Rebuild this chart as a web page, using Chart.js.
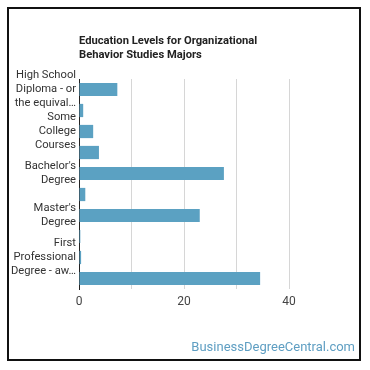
<!DOCTYPE html>
<html>
<head>
<meta charset="utf-8">
<script src="https://cdn.jsdelivr.net/npm/chart.js@4"></script>
<style>
  html, body { margin: 0; padding: 0; background: #fff; }
  #wrap { position: relative; width: 370px; height: 370px; }
  #frame { position: absolute; left: 7px; top: 7px; width: 350px; height: 350px; border: 2px solid #111; box-sizing: content-box; pointer-events: none; }
  canvas { position: absolute; left: 0; top: 0; }
</style>
</head>
<body>
<div id="wrap">
  <canvas id="c" width="370" height="370"></canvas>
  <div id="frame"></div>
</div>
<script>
const titleLines = ["Education Levels for Organizational", "Behavior Studies Majors"];
const categories = [
  "High School Diploma - or the equivalent (for example, GED)",
  "Post-Secondary Certificate",
  "Some College Courses",
  "Associate's Degree",
  "Bachelor's Degree",
  "Post-Baccalaureate Certificate",
  "Master's Degree",
  "Post-Master's Certificate",
  "First Professional Degree - awarded for completion of a program",
  "Doctoral Degree"
];
const tickLabels = [
  ["High School", "Diploma - or", "the equival\u2026"],
  ["Post-Secondary", "Certificate"],
  ["Some", "College", "Courses"],
  ["Associate's", "Degree"],
  ["Bachelor's", "Degree"],
  ["Post-", "Baccalaureate", "Certificate"],
  ["Master's", "Degree"],
  ["Post-Master's", "Certificate"],
  ["First", "Professional", "Degree - aw\u2026"],
  ["Doctoral", "Degree"]
];
const percentValues = [7.3, 0.8, 2.7, 3.8, 27.6, 1.2, 23.0, 0.25, 0.4, 34.5];
const xTickValues = [0, 20, 40];
const watermark = "BusinessDegreeCentral.com";

const textPlugin = {
  id: 'texts',
  afterDraw(chart) {
    const ctx = chart.ctx;
    const a = chart.chartArea;
    ctx.save();
    ctx.fillStyle = '#222';
    ctx.font = 'bold 11.2px Roboto';
    ctx.textAlign = 'left';
    ctx.textBaseline = 'middle';
    titleLines.forEach((t, i) => ctx.fillText(t, a.left, 41 + i * 14));
    ctx.fillStyle = '#5e9ec2';
    ctx.font = '13px Roboto';
    ctx.textAlign = 'right';
    ctx.fillText(watermark, 355, 348);
    ctx.restore();
  }
};

new Chart(document.getElementById('c'), {
  type: 'bar',
  data: {
    labels: tickLabels,
    datasets: [{
      data: percentValues,
      backgroundColor: '#5ba1c2',
      borderWidth: 0,
      categoryPercentage: 0.7,
      barPercentage: 0.9
    }]
  },
  options: {
    indexAxis: 'y',
    responsive: false,
    animation: false,
    devicePixelRatio: 1,
    layout: { padding: { left: 0, right: 81, top: 79, bottom: 0 } },
    plugins: { legend: { display: false }, tooltip: { enabled: false }, title: { display: false } },
    scales: {
      y: {
        afterFit(s) { s.width = 79; },
        grid: { display: false, drawTicks: false },
        border: { display: true, color: '#222', width: 1 },
        ticks: {
          autoSkip: false,
          padding: 3,
          color: '#333',
          font: { family: 'Roboto', size: 11.2, lineHeight: 1.24 },
          callback(v, i) { return i % 2 === 0 ? tickLabels[i] : ''; }
        }
      },
      x: {
        min: 0,
        max: 40,
        afterFit(s) { s.height = 81; },
        grid: { color: '#d6d6d6', drawTicks: false },
        border: { display: false },
        ticks: {
          stepSize: 10,
          autoSkip: false,
          padding: 6,
          color: '#444',
          font: { family: 'Roboto', size: 12 },
          callback(v) { return xTickValues.includes(v) ? String(v) : ''; }
        }
      }
    }
  },
  plugins: [textPlugin]
});
</script>
</body>
</html>
